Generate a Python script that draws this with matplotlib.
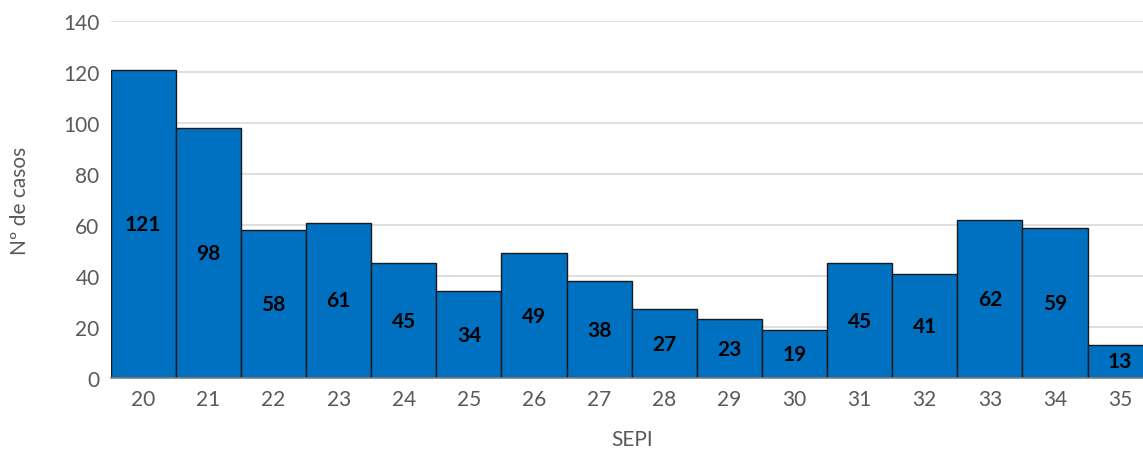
import matplotlib
matplotlib.use('Agg')
import matplotlib.pyplot as plt
import numpy as np

plt.rcParams['font.family'] = ['Lato', 'DejaVu Sans']

# Casos por semana epidemiológica
sepi = ['20', '21', '22', '23', '24', '25', '26', '27', '28', '29', '30',
        '31', '32', '33', '34', '35']
casos = [121, 98, 58, 61, 45, 34, 49, 38, 27, 23, 19, 45, 41, 62, 59, 13]

fig = plt.figure(figsize=(11.43, 4.52), dpi=100)
ax = fig.add_axes([110.7 / 1143, 73 / 452, (1152.7 - 110.7) / 1143, (429.7 - 73) / 452])

x = np.arange(len(casos))
ax.bar(x, casos, width=1.0, color='#0070C0', edgecolor='#1a1a1a', linewidth=1.0, zorder=3)

for xi, v in zip(x, casos):
    ax.text(xi, v / 2, str(v), ha='center', va='center', fontsize=15,
            fontweight='bold', color='black', zorder=4)

ax.set_xlim(-0.5, len(casos) - 0.5)
ax.set_ylim(0, 140)
ax.set_yticks(range(0, 141, 20))
ax.set_xticks(x)
ax.set_xticklabels(sepi)
ax.grid(axis='y', color='#d9d9d9', linewidth=1.2, zorder=0)
for s in ['top', 'right', 'left']:
    ax.spines[s].set_visible(False)
ax.spines['bottom'].set_color('#7f7f7f')
ax.spines['bottom'].set_linewidth(1.2)
ax.spines['bottom'].set_zorder(5)
ax.tick_params(axis='both', length=0, labelsize=15, colors='#595959', pad=8)
ax.set_xlabel('SEPI', fontsize=15, color='#595959', labelpad=14)
ax.set_ylabel('Nº de casos', fontsize=15, color='#595959', labelpad=24)

fig.savefig('out.png', dpi=100)
